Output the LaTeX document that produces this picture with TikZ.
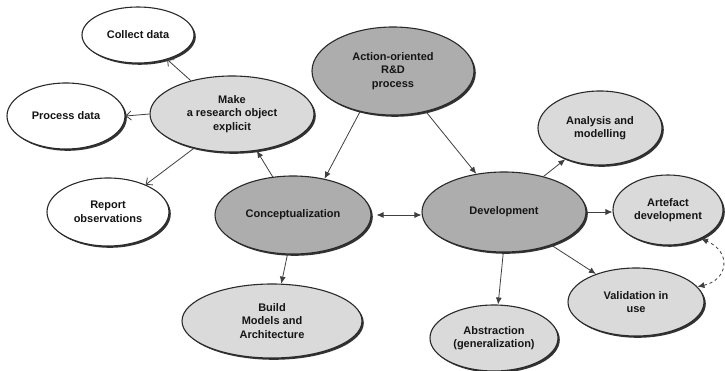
\documentclass[tikz,border=0pt]{standalone}
\usepackage{fontspec}
\setmainfont{Liberation Sans}
\usetikzlibrary{shapes.geometric,arrows.meta,shadows}
\definecolor{darkfill}{HTML}{ADADAD}
\definecolor{lightfill}{HTML}{DADADA}
\definecolor{edgecol}{HTML}{2A2A2A}
\definecolor{txtcol}{HTML}{151515}
\tikzset{
  bub/.style={ellipse, draw=edgecol, line width=1.1pt, inner sep=0pt, align=center,
    font=\fontsize{11}{13.5}\selectfont\bfseries, text=txtcol,
    drop shadow={shadow xshift=1.8pt, shadow yshift=-1.8pt, fill=black!80, opacity=1}},
  whitebub/.style={bub, fill=white},
  lightbub/.style={bub, fill=lightfill},
  darkbub/.style={bub, fill=darkfill},
  tipf/.tip={Latex[length=7pt,width=6pt]},
  con/.style={draw=edgecol!90, line width=0.8pt, -tipf},
  opencon/.style={draw=edgecol!90, line width=0.8pt, -{Straight Barb[length=5pt,width=9pt]}},
}
\begin{document}
\begin{tikzpicture}[x=1pt,y=-1pt]
\useasboundingbox[fill=white] (0,0) rectangle (725,371);
% nodes
\node[whitebub, minimum width=112pt, minimum height=56pt] (collect) at (138,35) {Collect data};
\node[whitebub, minimum width=118pt, minimum height=66pt] (process) at (66,116) {Process data};
\node[lightbub, minimum width=164pt, minimum height=76pt] (make) at (232,114) {Make\\a research object\\explicit};
\node[whitebub, minimum width=122pt, minimum height=68pt] (report) at (108,212) {Report\\observations};
\node[darkbub, minimum width=162pt, minimum height=88pt] (action) at (393,71) {Action-oriented\\R\&D\\process};
\node[darkbub, minimum width=156pt, minimum height=78pt] (concept) at (293,215) {Conceptualization};
\node[lightbub, minimum width=180pt, minimum height=74pt] (build) at (272,321) {Build\\Models and\\Architecture};
\node[darkbub, minimum width=164pt, minimum height=80pt] (dev) at (504,212) {Development};
\node[lightbub, minimum width=124pt, minimum height=74pt] (analysis) at (600,128) {Analysis and\\modelling};
\node[lightbub, minimum width=110pt, minimum height=70pt] (artefact) at (668,210) {Artefact\\development};
\node[lightbub, minimum width=136pt, minimum height=68pt] (valid) at (636,302) {Validation in\\use};
\node[lightbub, minimum width=128pt, minimum height=66pt] (abstr) at (494,338) {Abstraction\\(generalization)};
% connectors
\draw[opencon] (make.141) -- (collect.-40);
\draw[opencon] (make.west) -- (process.east);
\draw[opencon] (make.222) -- (report.36);
\draw[con] (concept.118) -- (make.-56);
\draw[con] (action.231) -- (concept.49);
\draw[con] (action.-51) -- (dev.126);
\draw[con, tipf-tipf] ([xshift=5pt]concept.east) -- (concept.east -| dev.west);
\draw[con] (dev.42) -- (analysis.222);
\draw[con] (dev.east) -- (dev.east -| artefact.west);
\draw[con] (dev.-35) -- (valid.145);
\draw[con] (dev.-91) -- (abstr.83);
\draw[con] (concept.-98) -- (build.76);
\draw[con, dashed, tipf-tipf] (valid.14) .. controls (728,280) and (732,252) .. (artefact.-41);
\end{tikzpicture}
\end{document}
